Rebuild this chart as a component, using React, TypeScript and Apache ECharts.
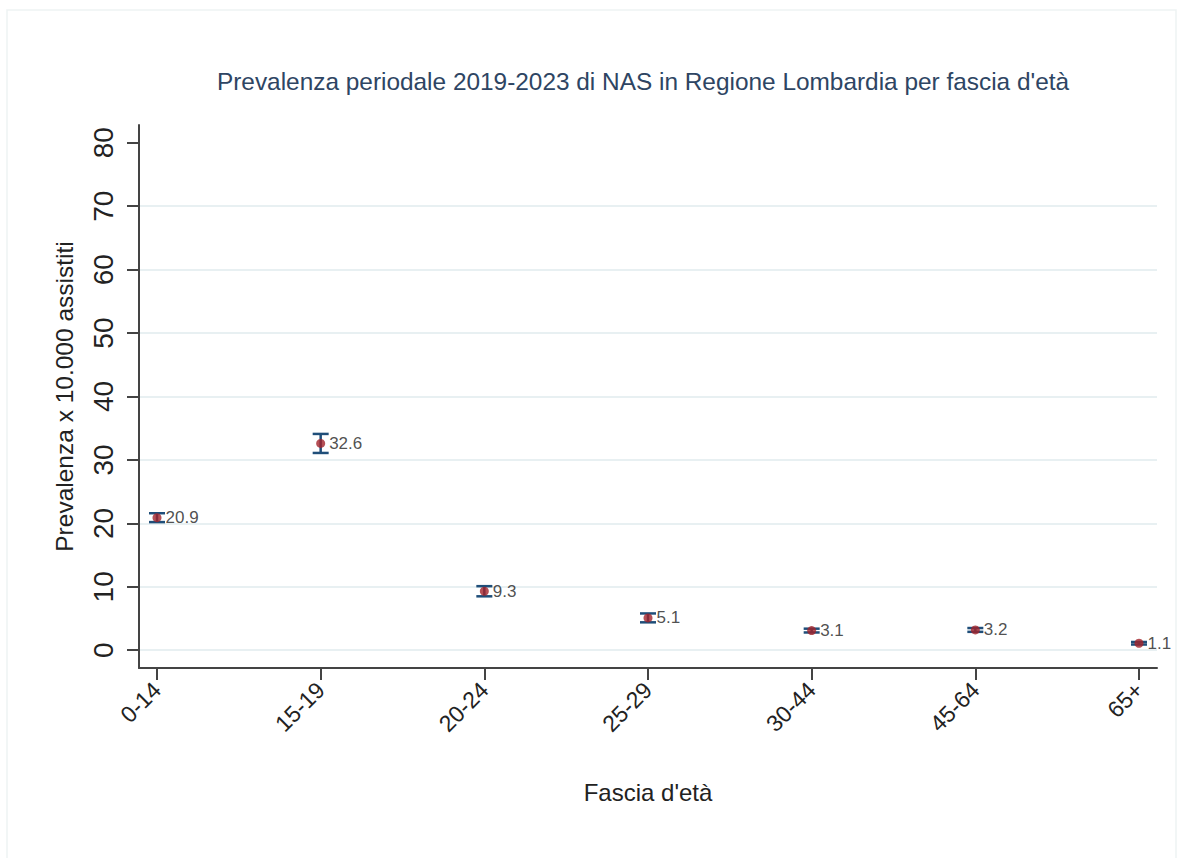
import React, { useEffect, useRef } from "react";
import * as echarts from "echarts";

const categories = ["0-14", "15-19", "20-24", "25-29", "30-44", "45-64", "65+"];
const prevalence = [20.9, 32.6, 9.3, 5.1, 3.1, 3.2, 1.1];
const ciLow = [20.2, 31.1, 8.5, 4.4, 2.8, 2.9, 0.9];
const ciHigh = [21.6, 34.1, 10.1, 5.8, 3.4, 3.5, 1.3];
const yTicks = [0, 10, 20, 30, 40, 50, 60, 70, 80];
const gridValues = [0, 10, 20, 30, 40, 50, 60, 70];

const FONT = "'Liberation Sans', Arial, sans-serif";
const BAR_COLOR = "#1f4e79";
const DOT_COLOR = "#a3232b";
const AXIS_COLOR = "#444";

export default function App() {
  const ref = useRef<HTMLDivElement>(null);
  useEffect(() => {
    if (!ref.current) return;
    const chart = echarts.init(ref.current, undefined, { renderer: "svg" });
    const xIdx = categories.map((_, i) => i);
    chart.setOption({
      animation: false,
      backgroundColor: "#fff",
      textStyle: { fontFamily: FONT },
      title: {
        text: "Prevalenza periodale 2019-2023 di NAS in Regione Lombardia per fascia d'età",
        left: 638,
        textAlign: "center",
        top: 64,
        textStyle: { fontFamily: FONT, fontSize: 24.4, fontWeight: "normal", color: "#2e4563" },
      },
      graphic: [
        {
          type: "polyline",
          silent: true,
          shape: { points: [[7, 858], [7, 10], [1176, 10], [1176, 858]] },
          style: { stroke: "#eef3f3", lineWidth: 1.5, fill: null },
        },
      ],
      grid: { left: 139, right: 21, top: 125, bottom: 190 },
      xAxis: {
        type: "value",
        min: -0.11,
        max: 6.11,
        splitLine: { show: false },
        axisLine: { onZero: false, lineStyle: { color: AXIS_COLOR, width: 2 } },
        axisTick: { customValues: xIdx, length: 12, lineStyle: { color: AXIS_COLOR, width: 2 } },
        axisLabel: {
          customValues: xIdx,
          formatter: (v: number) => categories[Math.round(v)] ?? "",
          rotate: 45,
          margin: 18,
          fontSize: 23,
          color: "#222",
          fontFamily: FONT,
        },
        name: "Fascia d'età",
        nameLocation: "middle",
        nameGap: 112,
        nameTextStyle: { fontSize: 24, color: "#222", fontFamily: FONT },
      },
      yAxis: {
        type: "value",
        min: -2.8,
        max: 82.8,
        splitLine: { show: false },
        axisLine: { onZero: false, lineStyle: { color: AXIS_COLOR, width: 2 } },
        axisTick: { customValues: yTicks, length: 12, lineStyle: { color: AXIS_COLOR, width: 2 } },
        axisLabel: {
          customValues: yTicks,
          rotate: 90,
          margin: 22,
          fontSize: 28,
          color: "#222",
          fontFamily: FONT,
        },
        name: "Prevalenza x 10.000 assistiti",
        nameLocation: "middle",
        nameGap: 62,
        nameRotate: 90,
        nameTextStyle: { fontSize: 24.5, color: "#222", fontFamily: FONT },
      },
      series: [
        {
          type: "custom",
          z: 2,
          data: categories.map((_, i) => [i, ciLow[i], ciHigh[i]]),
          renderItem: (params: any, api: any) => {
            const x = api.value(0);
            const top = api.coord([x, api.value(2)]);
            const bot = api.coord([x, api.value(1)]);
            const hw = 8;
            const style = { stroke: BAR_COLOR, lineWidth: 2.5 };
            return {
              type: "group",
              children: [
                { type: "line", shape: { x1: top[0], y1: top[1], x2: bot[0], y2: bot[1] }, style },
                { type: "line", shape: { x1: top[0] - hw, y1: top[1], x2: top[0] + hw, y2: top[1] }, style },
                { type: "line", shape: { x1: bot[0] - hw, y1: bot[1], x2: bot[0] + hw, y2: bot[1] }, style },
              ],
            };
          },
          markLine: {
            silent: true,
            symbol: "none",
            label: { show: false },
            z: 0,
            lineStyle: { color: "#e8f0f2", width: 2, type: "solid" },
            data: gridValues.map((v) => ({ yAxis: v })),
          },
        },
        {
          type: "scatter",
          z: 3,
          symbol: "circle",
          symbolSize: 9,
          itemStyle: { color: DOT_COLOR },
          data: categories.map((_, i) => [i, prevalence[i]]),
          label: {
            show: true,
            position: "right",
            distance: 4,
            formatter: (p: any) => p.value[1].toFixed(1),
            fontSize: 17,
            color: "#222",
            fontFamily: FONT,
          },
        },
      ],
    });
    return () => chart.dispose();
  }, []);
  return (
    <div
      ref={ref}
      style={{ position: "absolute", left: 0, top: 0, width: 1178, height: 858 }}
    />
  );
}
